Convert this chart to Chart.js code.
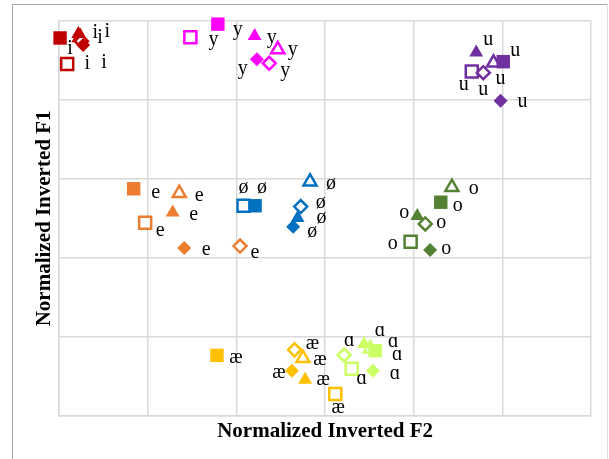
<!DOCTYPE html>
<html>
<head>
<meta charset="utf-8">
<title>Normalized vowel chart</title>
<script src="https://cdn.jsdelivr.net/npm/chart.js@4.4.1/dist/chart.umd.min.js"></script>
<style>
  body { margin: 0; background: #ffffff; }
  #vowelChart { display: block; }
</style>
</head>
<body>
<canvas id="vowelChart" width="609" height="459"></canvas>
<script>
// the six markers of every vowel, open ones first so the filled ones sit on top
var markerNames = ["open square", "open triangle", "open diamond", "filled square", "filled triangle", "filled diamond"];

// vowel labels (one cluster each)
var vowels = ["i", "y", "u", "e", "ø", "o", "æ", "ɑ"];

// normalized inverted F2 (x) and F1 (y), in the marker order above
var f2_i = [0.018, 0.047, 0.050, 0.002, 0.043, 0.054];
var f1_i = [0.891, 0.959, 0.949, 0.957, 0.967, 0.939];

var f2_y = [0.296, 0.493, 0.474, 0.358, 0.441, 0.446];
var f1_y = [0.959, 0.928, 0.893, 0.992, 0.962, 0.903];

var f2_u = [0.931, 0.980, 0.957, 1.002, 0.941, 0.996];
var f1_u = [0.872, 0.894, 0.869, 0.897, 0.920, 0.798];

var f2_e = [0.194, 0.271, 0.408, 0.168, 0.256, 0.282];
var f1_e = [0.489, 0.564, 0.430, 0.575, 0.515, 0.425];

var f2_oe = [0.416, 0.566, 0.545, 0.442, 0.538, 0.528];
var f1_oe = [0.532, 0.593, 0.530, 0.532, 0.501, 0.479];

var f2_o = [0.793, 0.886, 0.826, 0.861, 0.808, 0.837];
var f1_o = [0.441, 0.579, 0.486, 0.541, 0.506, 0.420];

var f2_ae = [0.623, 0.550, 0.531, 0.356, 0.555, 0.525];
var f1_ae = [0.055, 0.146, 0.167, 0.153, 0.091, 0.114];

var f2_a = [0.660, 0.702, 0.643, 0.713, 0.688, 0.708];
var f1_a = [0.119, 0.170, 0.154, 0.165, 0.182, 0.114];

var f2Lists = [f2_i, f2_y, f2_u, f2_e, f2_oe, f2_o, f2_ae, f2_a];
var f1Lists = [f1_i, f1_y, f1_u, f1_e, f1_oe, f1_o, f1_ae, f1_a];

// ---- styling (kept apart from the data) ----
var vowelColours = ["#C00000", "#FF00FF", "#7030A0", "#ED7D31", "#0070C0", "#548235", "#FFC000", "#CCFF66"];
var markerStyle = ["rect", "triangle", "rectRot", "rect", "triangle", "rectRot"];
var markerFilled = [false, false, false, true, true, true];
var markerRadius = [8.5, 7.5, 6.5, 9.5, 8, 7];

// where each little vowel label sits next to its marker (pixels)
var labelNudge = [
  [[20, 0], [20, 1], [26, -9], [10, 11], [17, -1], [21, 18]],
  [[23, 3], [15, 1], [16, 8], [20, 6], [17, 2], [-14, 10]],
  [[-8, 13], [7, 16], [0, 17], [12, -11], [12, -13], [22, 1]],
  [[15, 8], [20, 3], [15, 7], [22, 4], [21, 3], [22, 2]],
  [[0, -18], [21, 2], [20, -4], [7, -18], [24, 0], [19, 5]],
  [[-18, 2], [22, 2], [16, -1], [17, 4], [-13, -3], [16, -1]],
  [[3, 14], [17, 2], [18, -6], [19, 3], [18, 0], [-13, 2]],
  [[10, 10], [23, -7], [5, -14], [22, 4], [16, -13], [22, 3]]
];

window.onload = function () {
  var datasets = [];
  for (var v = 0; v < vowels.length; v++) {
    var pts = [];
    var fills = [];
    var widths = [];
    for (var k = 0; k < markerNames.length; k++) {
      pts.push({ x: f2Lists[v][k], y: f1Lists[v][k] });
      fills.push(markerFilled[k] ? vowelColours[v] : "#ffffff");
      widths.push(markerFilled[k] ? 0 : 2.5);
    }
    datasets.push({
      label: vowels[v],
      data: pts,
      pointStyle: markerStyle,
      pointRadius: markerRadius,
      pointHoverRadius: markerRadius,
      pointBackgroundColor: fills,
      pointBorderColor: vowelColours[v],
      pointBorderWidth: widths,
      showLine: false,
      clip: false,
      order: vowels.length - v
    });
  }

  // text labels beside each marker + grey frame round the whole figure
  var vowelLabels = {
    id: "vowelLabels",
    beforeDraw: function (chart) {
      var c = chart.ctx;
      c.save();
      c.fillStyle = "#ffffff";
      c.fillRect(0, 0, chart.width, chart.height);
      c.lineWidth = 1;
      c.strokeStyle = "#A6A6A6";
      c.beginPath();
      c.moveTo(12.5, 470);
      c.lineTo(12.5, 4.5);
      c.lineTo(607.5, 4.5);
      c.stroke();
      c.strokeStyle = "#DDDDDD";
      c.beginPath();
      c.moveTo(607.5, 4.5);
      c.lineTo(607.5, 470);
      c.stroke();
      c.restore();
    },
    afterDatasetsDraw: function (chart) {
      var c = chart.ctx;
      c.save();
      c.font = "20px 'Liberation Serif', 'Times New Roman', serif";
      c.fillStyle = "#000000";
      c.textAlign = "center";
      c.textBaseline = "alphabetic";
      for (var d = 0; d < chart.data.datasets.length; d++) {
        var meta = chart.getDatasetMeta(d);
        for (var p = 0; p < meta.data.length; p++) {
          var el = meta.data[p];
          var nudge = labelNudge[d][p];
          c.fillText(vowels[d], el.x + nudge[0], el.y + nudge[1] + 5);
        }
      }
      c.restore();
    }
  };

  var titleFont = { family: "'Liberation Serif', 'Times New Roman', serif", size: 21, weight: "bold", lineHeight: 1.2 };

  new Chart(document.getElementById("vowelChart").getContext("2d"), {
    type: "scatter",
    data: { datasets: datasets },
    plugins: [vowelLabels],
    options: {
      responsive: false,
      animation: false,
      layout: { padding: { left: 32, right: 18, top: 21, bottom: 15 } },
      plugins: {
        legend: { display: false },
        tooltip: { enabled: false }
      },
      scales: {
        x: {
          min: 0,
          max: 1.2,
          ticks: { display: false, stepSize: 0.2 },
          grid: { color: "#D9D9D9", lineWidth: 1.5, drawTicks: false },
          border: { color: "#D9D9D9", width: 1.5 },
          title: { display: true, text: "Normalized Inverted F2", color: "#000000", font: titleFont, padding: { top: 3, bottom: 0 } }
        },
        y: {
          min: 0,
          max: 1,
          ticks: { display: false, stepSize: 0.2 },
          grid: { color: "#D9D9D9", lineWidth: 1.5, drawTicks: false },
          border: { color: "#D9D9D9", width: 1.5 },
          title: { display: true, text: "Normalized Inverted F1", color: "#000000", font: titleFont, padding: { top: 0, bottom: 2 } }
        }
      }
    }
  });
};
</script>
</body>
</html>
